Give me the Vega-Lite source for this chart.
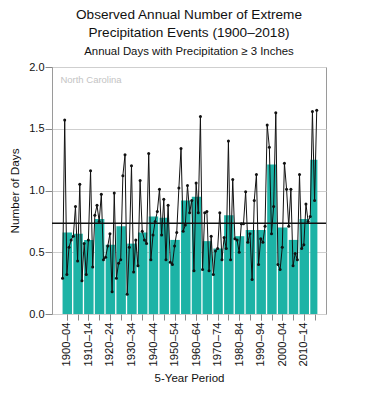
{
  "$schema": "https://vega.github.io/schema/vega-lite/v6.json",
  "autosize": {"type": "none"},
  "width": 274,
  "height": 247,
  "padding": {"left": 52, "top": 67, "right": 56, "bottom": 87},
  "background": "white",
  "config": {
    "font": "Liberation Sans",
    "view": {"stroke": "#9a9a9a", "strokeWidth": 1},
    "axis": {"labelFont": "Liberation Sans", "titleFont": "Liberation Sans", "labelColor": "#111", "titleColor": "#111", "titleFontWeight": "normal"}
  },
  "title": {
    "text": ["Observed Annual Number of Extreme", "Precipitation Events (1900–2018)"],
    "subtitle": "Annual Days with Precipitation ≥ 3 Inches",
    "anchor": "middle",
    "fontSize": 13.6,
    "fontWeight": "normal",
    "lineHeight": 17.7,
    "color": "#111",
    "subtitleFontSize": 11.4,
    "subtitleColor": "#111",
    "subtitlePadding": 6,
    "offset": 4
  },
  "resolve": {"axis": {"x": "independent"}},
  "datasets": {
    "annual": [
      {"year": 1900, "days": 0.29}, {"year": 1901, "days": 1.57}, {"year": 1902, "days": 0.32}, {"year": 1903, "days": 0.54}, {"year": 1904, "days": 0.60},
      {"year": 1905, "days": 0.63}, {"year": 1906, "days": 0.87}, {"year": 1907, "days": 0.43}, {"year": 1908, "days": 1.05}, {"year": 1909, "days": 0.27},
      {"year": 1910, "days": 0.57}, {"year": 1911, "days": 0.32}, {"year": 1912, "days": 0.60}, {"year": 1913, "days": 1.16}, {"year": 1914, "days": 0.38},
      {"year": 1915, "days": 0.80}, {"year": 1916, "days": 0.88}, {"year": 1917, "days": 0.75}, {"year": 1918, "days": 0.97}, {"year": 1919, "days": 0.44},
      {"year": 1920, "days": 0.46}, {"year": 1921, "days": 0.55}, {"year": 1922, "days": 0.65}, {"year": 1923, "days": 0.18}, {"year": 1924, "days": 0.98},
      {"year": 1925, "days": 0.29}, {"year": 1926, "days": 0.41}, {"year": 1927, "days": 0.44}, {"year": 1928, "days": 1.12}, {"year": 1929, "days": 1.29},
      {"year": 1930, "days": 0.16}, {"year": 1931, "days": 0.54}, {"year": 1932, "days": 1.20}, {"year": 1933, "days": 0.34}, {"year": 1934, "days": 0.60},
      {"year": 1935, "days": 0.39}, {"year": 1936, "days": 1.08}, {"year": 1937, "days": 0.67}, {"year": 1938, "days": 0.60}, {"year": 1939, "days": 0.57},
      {"year": 1940, "days": 1.30}, {"year": 1941, "days": 0.44}, {"year": 1942, "days": 0.64}, {"year": 1943, "days": 0.75}, {"year": 1944, "days": 0.83},
      {"year": 1945, "days": 1.01}, {"year": 1946, "days": 0.64}, {"year": 1947, "days": 0.93}, {"year": 1948, "days": 0.44}, {"year": 1949, "days": 0.88},
      {"year": 1950, "days": 0.42}, {"year": 1951, "days": 0.40}, {"year": 1952, "days": 0.55}, {"year": 1953, "days": 0.66}, {"year": 1954, "days": 1.02},
      {"year": 1955, "days": 1.34}, {"year": 1956, "days": 0.67}, {"year": 1957, "days": 0.72}, {"year": 1958, "days": 1.04}, {"year": 1959, "days": 0.82},
      {"year": 1960, "days": 0.92}, {"year": 1961, "days": 0.35}, {"year": 1962, "days": 1.06}, {"year": 1963, "days": 0.82}, {"year": 1964, "days": 1.60},
      {"year": 1965, "days": 0.36}, {"year": 1966, "days": 0.82}, {"year": 1967, "days": 0.83}, {"year": 1968, "days": 0.35}, {"year": 1969, "days": 0.63},
      {"year": 1970, "days": 0.32}, {"year": 1971, "days": 0.51}, {"year": 1972, "days": 0.53}, {"year": 1973, "days": 0.82}, {"year": 1974, "days": 0.44},
      {"year": 1975, "days": 0.62}, {"year": 1976, "days": 0.53}, {"year": 1977, "days": 1.40}, {"year": 1978, "days": 0.44}, {"year": 1979, "days": 1.09},
      {"year": 1980, "days": 0.61}, {"year": 1981, "days": 0.60}, {"year": 1982, "days": 0.50}, {"year": 1983, "days": 0.73}, {"year": 1984, "days": 0.73},
      {"year": 1985, "days": 0.99}, {"year": 1986, "days": 0.58}, {"year": 1987, "days": 0.65}, {"year": 1988, "days": 0.28}, {"year": 1989, "days": 0.92},
      {"year": 1990, "days": 1.13}, {"year": 1991, "days": 0.40}, {"year": 1992, "days": 0.61}, {"year": 1993, "days": 0.58}, {"year": 1994, "days": 0.71},
      {"year": 1995, "days": 1.53}, {"year": 1996, "days": 1.35}, {"year": 1997, "days": 0.65}, {"year": 1998, "days": 0.87}, {"year": 1999, "days": 1.63},
      {"year": 2000, "days": 0.40}, {"year": 2001, "days": 0.36}, {"year": 2002, "days": 0.54}, {"year": 2003, "days": 1.22}, {"year": 2004, "days": 1.01},
      {"year": 2005, "days": 0.71}, {"year": 2006, "days": 1.01}, {"year": 2007, "days": 0.39}, {"year": 2008, "days": 0.49}, {"year": 2009, "days": 0.44},
      {"year": 2010, "days": 1.13}, {"year": 2011, "days": 0.53}, {"year": 2012, "days": 0.56}, {"year": 2013, "days": 0.89}, {"year": 2014, "days": 0.75},
      {"year": 2015, "days": 0.79}, {"year": 2016, "days": 1.64}, {"year": 2017, "days": 0.92}, {"year": 2018, "days": 1.65}
    ],
    "periods": [
      {"period": "1900–04", "start": 1900, "end": 1904.4, "days": 0.66},
      {"period": "1905–09", "start": 1905, "end": 1909.4, "days": 0.65},
      {"period": "1910–14", "start": 1910, "end": 1914.4, "days": 0.60},
      {"period": "1915–19", "start": 1915, "end": 1919.4, "days": 0.77},
      {"period": "1920–24", "start": 1920, "end": 1924.4, "days": 0.56},
      {"period": "1925–29", "start": 1925, "end": 1929.4, "days": 0.71},
      {"period": "1930–34", "start": 1930, "end": 1934.4, "days": 0.57},
      {"period": "1935–39", "start": 1935, "end": 1939.4, "days": 0.66},
      {"period": "1940–44", "start": 1940, "end": 1944.4, "days": 0.79},
      {"period": "1945–49", "start": 1945, "end": 1949.4, "days": 0.78},
      {"period": "1950–54", "start": 1950, "end": 1954.4, "days": 0.60},
      {"period": "1955–59", "start": 1955, "end": 1959.4, "days": 0.92},
      {"period": "1960–64", "start": 1960, "end": 1964.4, "days": 0.95},
      {"period": "1965–69", "start": 1965, "end": 1969.4, "days": 0.59},
      {"period": "1970–74", "start": 1970, "end": 1974.4, "days": 0.53},
      {"period": "1975–79", "start": 1975, "end": 1979.4, "days": 0.80},
      {"period": "1980–84", "start": 1980, "end": 1984.4, "days": 0.63},
      {"period": "1985–89", "start": 1985, "end": 1989.4, "days": 0.68},
      {"period": "1990–94", "start": 1990, "end": 1994.4, "days": 0.68},
      {"period": "1995–99", "start": 1995, "end": 1999.4, "days": 1.21},
      {"period": "2000–04", "start": 2000, "end": 2004.4, "days": 0.70},
      {"period": "2005–09", "start": 2005, "end": 2009.4, "days": 0.60},
      {"period": "2010–14", "start": 2010, "end": 2014.4, "days": 0.77},
      {"period": "2015–18", "start": 2015, "end": 2018.3, "days": 1.25}
    ]
  },
  "layer": [
    {
      "data": {"name": "periods"},
      "mark": {"type": "rect", "color": "#1db3a6"},
      "encoding": {
        "x": {
          "field": "start", "type": "quantitative",
          "scale": {"domain": [1895.1, 2022.3], "nice": false, "zero": false},
          "axis": {
            "orient": "bottom",
            "title": null,
            "values": [1902, 1907, 1912, 1917, 1922, 1927, 1932, 1937, 1942, 1947, 1952, 1957, 1962, 1967, 1972, 1977, 1982, 1987, 1992, 1997, 2002, 2007, 2012, 2017],
            "labels": false,
            "tickSize": 6,
            "tickColor": "#888",
            "domain": false,
            "grid": false
          }
        },
        "x2": {"field": "end"},
        "y": {
          "field": "days", "type": "quantitative",
          "scale": {"domain": [0, 2], "nice": false},
          "axis": {
            "title": "Number of Days",
            "titleFontSize": 11.8,
            "titlePadding": 8,
            "values": [0, 0.5, 1, 1.5, 2],
            "format": ".1f",
            "labelFontSize": 11,
            "labelPadding": 1,
            "tickSize": 7,
            "tickColor": "#888",
            "domainColor": "#9a9a9a",
            "gridColor": "#cfcfcf",
            "grid": true
          }
        },
        "y2": {"datum": 0}
      }
    },
    {
      "data": {"name": "annual"},
      "mark": {"type": "line", "color": "#111", "strokeWidth": 1, "point": {"filled": true, "color": "#111", "size": 9}},
      "encoding": {
        "x": {
          "field": "year", "type": "quantitative",
          "axis": {
            "orient": "bottom",
            "title": "5-Year Period",
            "titleFontSize": 11.5,
            "titlePadding": 7,
            "values": [1902, 1912, 1922, 1932, 1942, 1952, 1962, 1972, 1982, 1992, 2002, 2012],
            "labelExpr": "(datum.value - 2) + '–' + slice('0' + ((datum.value + 2) % 100), -2)",
            "labelAngle": -90,
            "labelFontSize": 11.3,
            "labelPadding": 2,
            "labelOverlap": false,
            "labelFlush": false,
            "labelBound": false,
            "tickSize": 6,
            "tickColor": "#888",
            "domain": false,
            "grid": false
          }
        },
        "y": {"field": "days", "type": "quantitative"}
      }
    },
    {
      "data": {"values": [{}]},
      "mark": {"type": "rule", "color": "#111", "strokeWidth": 1.6},
      "encoding": {"y": {"datum": 0.735}}
    },
    {
      "data": {"values": [{}]},
      "mark": {"type": "text", "text": "North Carolina", "color": "#c4c4c4", "fontSize": 9.5, "align": "left", "baseline": "alphabetic"},
      "encoding": {"x": {"datum": 1899, "axis": null}, "y": {"datum": 1.87}}
    }
  ]
}
